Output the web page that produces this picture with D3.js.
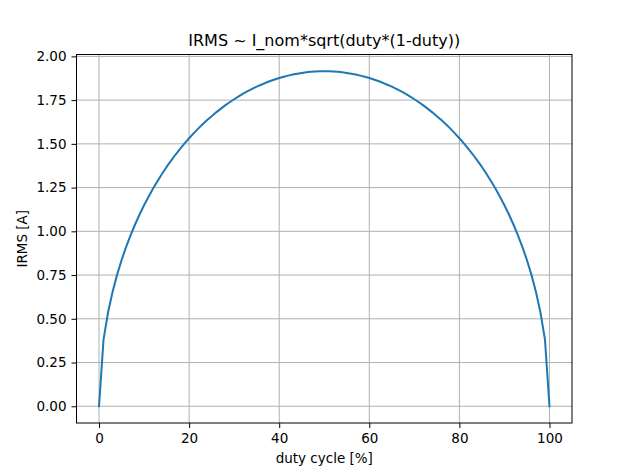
<!DOCTYPE html>
<html>
<head>
<meta charset="utf-8">
<script src="https://cdn.jsdelivr.net/npm/d3@7"></script>
<style>
body { margin: 0; background: white; }
text { font-family: "DejaVu Sans", sans-serif; }
</style>
</head>
<body>
<script>
// duty cycle in %
let duty = [0,1,2,3,4,5,6,7,8,9,10,11,12,13,14,15,16,17,18,19,20,21,22,23,24,25,26,27,28,29,30,
    31,32,33,34,35,36,37,38,39,40,41,42,43,44,45,46,47,48,49,50,51,52,53,54,55,56,57,58,59,60,
    61,62,63,64,65,66,67,68,69,70,71,72,73,74,75,76,77,78,79,80,81,82,83,84,85,86,87,88,89,90,
    91,92,93,94,95,96,97,98,99,100];
// IRMS [A]
let irms = [0, 0.381, 0.536, 0.653, 0.751, 0.835, 0.910, 0.977, 1.039, 1.096, 1.149,
    1.198, 1.245, 1.288, 1.329, 1.368, 1.404, 1.439, 1.471, 1.503, 1.532,
    1.560, 1.587, 1.612, 1.636, 1.658, 1.680, 1.700, 1.720, 1.738, 1.755,
    1.771, 1.787, 1.801, 1.814, 1.827, 1.838, 1.849, 1.859, 1.868, 1.876,
    1.884, 1.890, 1.896, 1.901, 1.905, 1.909, 1.912, 1.914, 1.915, 1.915,
    1.915, 1.914, 1.912, 1.909, 1.905, 1.901, 1.896, 1.890, 1.884, 1.876,
    1.868, 1.859, 1.849, 1.838, 1.827, 1.814, 1.801, 1.787, 1.771, 1.755,
    1.738, 1.720, 1.700, 1.680, 1.658, 1.636, 1.612, 1.587, 1.560, 1.532,
    1.503, 1.471, 1.439, 1.404, 1.368, 1.329, 1.288, 1.245, 1.198, 1.149,
    1.096, 1.039, 0.977, 0.910, 0.835, 0.751, 0.653, 0.536, 0.381, 0];
let xTicks = [0, 20, 40, 60, 80, 100];
let yTicks = [0, 0.25, 0.5, 0.75, 1.0, 1.25, 1.5, 1.75, 2.0];

let W = 633, H = 474;
let mLeft = 76.5, mRight = 572, mTop = 54.5, mBottom = 423;

let svg = d3.select('body').append('svg').attr('width', W).attr('height', H);

let x = d3.scaleLinear().domain([-5, 105]).range([mLeft, mRight]);
let y = d3.scaleLinear().domain([-0.09575, 2.01075]).range([mBottom, mTop]);

// grid
svg.append("g").selectAll("line").data(xTicks).enter().append("line")
    .attr("x1", d => x(d)).attr("x2", d => x(d))
    .attr("y1", mTop).attr("y2", mBottom)
    .attr("stroke", "#b0b0b0").attr("stroke-width", 1);
svg.append("g").selectAll("line").data(yTicks).enter().append("line")
    .attr("x1", mLeft).attr("x2", mRight)
    .attr("y1", d => y(d)).attr("y2", d => y(d))
    .attr("stroke", "#b0b0b0").attr("stroke-width", 1);

// curve
let line = d3.line().x((d, i) => x(duty[i])).y(d => y(d));
svg.append("path").datum(irms)
    .attr("d", line)
    .attr("fill", "none")
    .attr("stroke", "#1f77b4")
    .attr("stroke-width", 2)
    .attr("stroke-linejoin", "round")
    .attr("stroke-linecap", "square");

// axes
let xAxis = svg.append("g").attr("transform", "translate(0," + mBottom + ")")
    .call(d3.axisBottom(x).tickValues(xTicks).tickSize(5).tickPadding(5).tickFormat(d3.format("d")));
let yAxis = svg.append("g").attr("transform", "translate(" + mLeft + ",0)")
    .call(d3.axisLeft(y).tickValues(yTicks).tickSize(5).tickPadding(5).tickFormat(d3.format(".2f")));
for (let a of [xAxis, yAxis])
{
    a.select(".domain").remove();
    a.selectAll("text").attr("font-size", "13.5px").attr("font-family", "DejaVu Sans").attr("fill", "black");
    a.selectAll("line").attr("stroke", "black");
}

// frame
svg.append("rect")
    .attr("x", mLeft).attr("y", mTop)
    .attr("width", mRight - mLeft).attr("height", mBottom - mTop)
    .attr("fill", "none").attr("stroke", "black").attr("stroke-width", 1);

svg.append("text")
    .attr("x", (mLeft + mRight) / 2).attr("y", 45.5)
    .attr("text-anchor", "middle").attr("font-size", "16px")
    .text("IRMS ~ I_nom*sqrt(duty*(1-duty))");

svg.append("text")
    .attr("x", (mLeft + mRight) / 2).attr("y", 463)
    .attr("text-anchor", "middle").attr("font-size", "13.5px")
    .text("duty cycle [%]");

svg.append("text")
    .attr("transform", "translate(27," + ((mTop + mBottom) / 2) + ") rotate(-90)")
    .attr("text-anchor", "middle").attr("font-size", "13.5px")
    .text("IRMS [A]");
</script>
</body>
</html>
